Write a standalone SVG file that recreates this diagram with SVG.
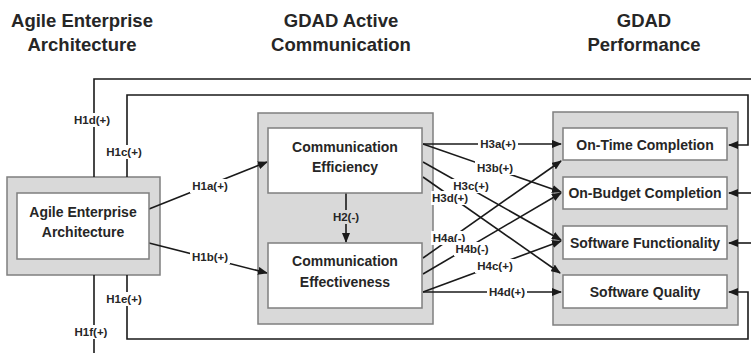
<svg xmlns="http://www.w3.org/2000/svg" width="751" height="353" viewBox="0 0 751 353">
<defs>
<marker id="ah" markerWidth="10" markerHeight="8" refX="9" refY="4" orient="auto" markerUnits="userSpaceOnUse"><path d="M0,0 L10,4 L0,8 z" fill="#1a1a1a"/></marker>
</defs>
<style>
.outer{fill:#d9d9d9;stroke:#7f7f7f;stroke-width:1.5}
.inner{fill:#fff;stroke:#7f7f7f;stroke-width:1.5}
.t{font-family:"Liberation Sans",Arial,sans-serif;font-weight:bold;fill:#262626;text-anchor:middle}
.node{font-size:14px}
.title{font-size:18.5px}
.lbl{font-size:11.5px}
.c{fill:none;stroke:#1a1a1a;stroke-width:1.6}
.a{marker-end:url(#ah)}
.bg{fill:#fff}
.bgg{fill:#d9d9d9}
</style>
<rect width="751" height="353" fill="#fff"/>
<g id="titles">
<text class="t title" x="82" y="27">Agile Enterprise</text>
<text class="t title" x="82" y="51">Architecture</text>
<text class="t title" x="341" y="27">GDAD Active</text>
<text class="t title" x="341" y="51">Communication</text>
<text class="t title" x="644" y="27">GDAD</text>
<text class="t title" x="644" y="51">Performance</text>
</g>
<g id="aea-group">
<rect class="outer" x="7" y="177" width="153" height="98"/>
</g>
<g id="gac-group">
<rect class="outer" x="258" y="113" width="175" height="211"/>
</g>
<g id="perf-group">
<rect class="outer" x="553" y="112" width="185" height="213"/>
</g>
<g id="connectors">
<path class="c a" d="M149,209 L267,162"/>
<path class="c a" d="M149,243 L267,273"/>
<path class="c a" d="M346,193 L346,242"/>
<path class="c a" d="M423,144 L561,144"/>
<path class="c a" d="M423,144 L561,192"/>
<path class="c a" d="M423,162 L561,240"/>
<path class="c a" d="M423,177 L560,273"/>
<path class="c a" d="M423,258 L561,161"/>
<path class="c a" d="M423,274 L561,193"/>
<path class="c a" d="M423,292 L561,241"/>
<path class="c a" d="M423,292 L561,292"/>
<path class="c a" d="M127,177 V95 H748 V145 H729"/>
<path class="c" d="M94,177 V79 H752"/>
<path class="c a" d="M752,193 H729"/>
<path class="c a" d="M752,243 H729"/>
<path class="c a" d="M127,275 V339 H748 V292 H729"/>
<path class="c" d="M94,275 V354"/>
</g>
<g id="aea">
<rect class="inner" x="17" y="193" width="132" height="66"/>
<text class="t node" x="83" y="217">Agile Enterprise</text>
<text class="t node" x="83" y="237">Architecture</text>
</g>
<g id="efficiency">
<rect class="inner" x="268" y="128" width="154" height="65"/>
<text class="t node" x="345" y="152">Communication</text>
<text class="t node" x="345" y="172">Efficiency</text>
</g>
<g id="effectiveness">
<rect class="inner" x="268" y="243" width="154" height="65"/>
<text class="t node" x="345" y="266">Communication</text>
<text class="t node" x="345" y="287">Effectiveness</text>
</g>
<g id="ontime">
<rect class="inner" x="563" y="128" width="164" height="32"/>
<text class="t node" x="645" y="150">On-Time Completion</text>
</g>
<g id="onbudget">
<rect class="inner" x="563" y="177" width="164" height="32"/>
<text class="t node" x="645" y="198">On-Budget Completion</text>
</g>
<g id="functionality">
<rect class="inner" x="563" y="226" width="164" height="33"/>
<text class="t node" x="645" y="248">Software Functionality</text>
</g>
<g id="quality">
<rect class="inner" x="563" y="275" width="164" height="33"/>
<text class="t node" x="645" y="297">Software Quality</text>
</g>
<g id="labels">
<rect class="bg" x="72" y="113" width="40" height="14"/><text class="t lbl" x="92" y="124">H1d(+)</text>
<rect class="bg" x="104" y="145" width="40" height="14"/><text class="t lbl" x="124" y="156">H1c(+)</text>
<rect class="bg" x="104" y="292" width="40" height="14"/><text class="t lbl" x="124" y="303">H1e(+)</text>
<rect class="bg" x="71" y="325" width="40" height="14"/><text class="t lbl" x="91" y="336">H1f(+)</text>
<rect class="bg" x="190" y="179" width="40" height="14"/><text class="t lbl" x="210" y="190">H1a(+)</text>
<rect class="bg" x="190" y="250" width="40" height="14"/><text class="t lbl" x="210" y="261">H1b(+)</text>
<rect class="bgg" x="329" y="210" width="34" height="14"/><text class="t lbl" x="346" y="221">H2(-)</text>
<rect class="bg" x="478" y="137" width="40" height="14"/><text class="t lbl" x="498" y="148">H3a(+)</text>
<rect class="bg" x="475" y="161" width="40" height="14"/><text class="t lbl" x="495" y="172">H3b(+)</text>
<rect class="bg" x="451" y="179" width="40" height="14"/><text class="t lbl" x="471" y="190">H3c(+)</text>
<rect class="bg" x="431" y="191" width="39" height="14"/><text class="t lbl" x="450" y="202">H3d(+)</text>
<rect class="bg" x="431" y="231" width="37" height="14"/><text class="t lbl" x="449" y="242">H4a(-)</text>
<rect class="bg" x="454" y="242" width="37" height="14"/><text class="t lbl" x="472" y="253">H4b(-)</text>
<rect class="bg" x="475" y="259" width="40" height="14"/><text class="t lbl" x="495" y="270">H4c(+)</text>
<rect class="bg" x="487" y="285" width="40" height="14"/><text class="t lbl" x="507" y="296">H4d(+)</text>
</g>
</svg>
